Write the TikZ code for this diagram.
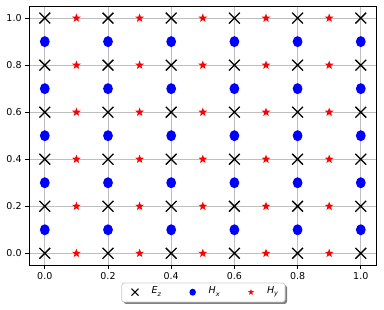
\documentclass[tikz,border=0pt]{standalone}
\usepackage{fontspec}
\setmainfont{DejaVu Sans}
\usetikzlibrary{shapes.geometric,shapes.misc}
\definecolor{gridc}{RGB}{190,190,190}
\definecolor{mblue}{RGB}{0,0,255}
\definecolor{mred}{RGB}{255,0,0}
\newcommand\sublab[2]{\textit{#1}\raisebox{-0.25em}{\fontsize{6.5}{7}\selectfont\textit{#2}}}
\tikzset{
  ezmark/.style={draw=black,line width=1.3pt,cross out,minimum size=9.5pt,inner sep=0pt},
  hxmark/.style={ellipse,fill=mblue,draw=none,minimum width=9.8pt,minimum height=11pt,inner sep=0pt},
  hymark/.style={star,star points=5,star point ratio=2.4,fill=mred,draw=none,minimum size=9.2pt,inner sep=0pt},
  ticklab/.style={font=\fontsize{9.5}{10}\selectfont,inner sep=0pt},
}
\begin{document}
\begin{tikzpicture}[x=1pt,y=1pt]
\useasboundingbox (0,0) rectangle (384,310);
\fill[white] (0,0) rectangle (384,310);
\begin{scope}[shift={(44.8,56.7)},x=316pt,y=235.2pt]
  % grid
  \foreach \v in {0,0.2,0.4,0.6,0.8,1.0} {
    \draw[gridc,line width=0.8pt] (\v,-0.05) -- (\v,1.05);
    \draw[gridc,line width=0.8pt] (-0.05,\v) -- (1.05,\v);
  }
  % ticks and labels
  \foreach \v/\t in {0/0.0,0.2/0.2,0.4/0.4,0.6/0.6,0.8/0.8,1.0/1.0} {
    \draw[line width=0.8pt] (\v,-0.05) -- ++(0,-3.5pt) node[ticklab,below=3.5pt] (xl\t) {\t};
    \draw[line width=0.8pt] (-0.05,\v) -- ++(-3.5pt,0) node[ticklab,left=3.5pt] (yl\t) {\t};
  }
  % markers
  \foreach \i in {0,1,2,3,4,5} {
    \foreach \j in {0,1,2,3,4,5} {
      \node[ezmark] (ez\i\j) at (0.2*\i,0.2*\j) {};
    }
    \foreach \j in {0,1,2,3,4} {
      \node[hxmark] (hx\i\j) at (0.2*\i,0.2*\j+0.1) {};
    }
  }
  \foreach \i in {0,1,2,3,4} {
    \foreach \j in {0,1,2,3,4,5} {
      \node[hymark] (hy\i\j) at (0.2*\i+0.1,0.2*\j) {};
    }
  }
  % spines
  \draw[line width=0.8pt] (-0.05,-0.05) rectangle (1.05,1.05);
\end{scope}
% legend
\fill[black!50,rounded corners=2.5pt] (123.7,6) rectangle (287,25);
\draw[fill=white,draw=black!20,line width=0.8pt,rounded corners=2.5pt] (121.7,8) rectangle (285,27);
\node[ezmark,minimum size=6pt,line width=1pt] (lez) at (135,17.8) {};
\node[anchor=west,inner sep=0pt,font=\fontsize{9.5}{10}\selectfont] (lezt) at (151.5,18.5) {\sublab{E}{z}};
\node[hxmark,minimum width=6.5pt,minimum height=7pt] (lhx) at (192.7,17.8) {};
\node[anchor=west,inner sep=0pt,font=\fontsize{9.5}{10}\selectfont] (lhxt) at (208.5,18.5) {\sublab{H}{x}};
\node[hymark,minimum size=6.5pt] (lhy) at (251,17.8) {};
\node[anchor=west,inner sep=0pt,font=\fontsize{9.5}{10}\selectfont] (lhyt) at (266.8,18.5) {\sublab{H}{y}};
\end{tikzpicture}
\end{document}
